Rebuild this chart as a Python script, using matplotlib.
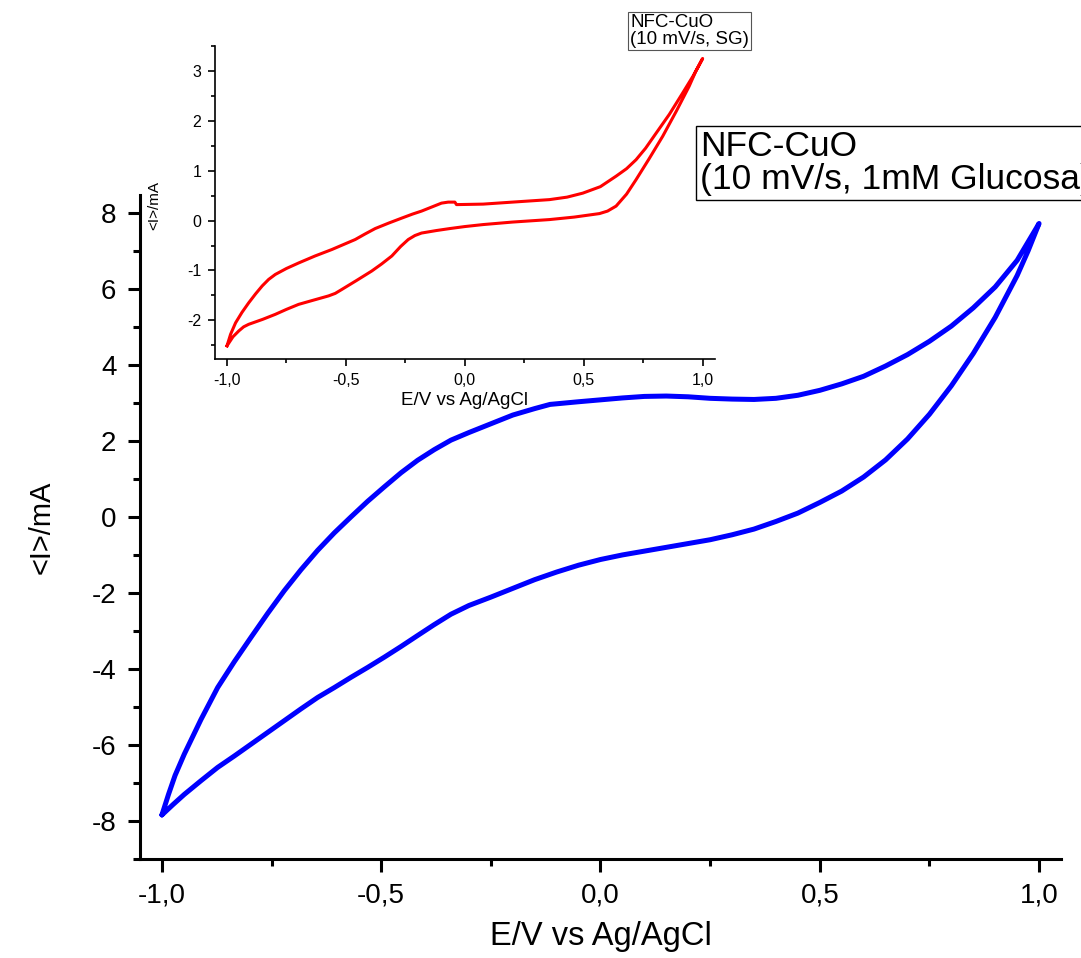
import numpy as np
import matplotlib.pyplot as plt
from matplotlib.ticker import MultipleLocator, FuncFormatter

plt.rcParams['font.family'] = ['Liberation Sans', 'DejaVu Sans']
plt.rcParams['axes.unicode_minus'] = False

# Main CV (1mM Glucosa): forward scan then return scan
E_fwd = [-1.0, -0.985, -0.97, -0.949, -0.911, -0.873, -0.835, -0.797, -0.759,
         -0.721, -0.683, -0.645, -0.607, -0.569, -0.531, -0.493, -0.455,
         -0.417, -0.379, -0.341, -0.30, -0.25, -0.2, -0.15, -0.115, -0.05,
         0.0, 0.05, 0.1, 0.15, 0.2, 0.25, 0.3, 0.35, 0.4, 0.45, 0.5, 0.55,
         0.6, 0.65, 0.7, 0.75, 0.8, 0.85, 0.9, 0.95, 1.0]
I_fwd = [-7.84, -7.3, -6.8, -6.24, -5.33, -4.49, -3.81, -3.17, -2.54,
         -1.94, -1.39, -0.88, -0.42, 0.0, 0.41, 0.79, 1.16,
         1.49, 1.77, 2.02, 2.22, 2.45, 2.68, 2.85, 2.96, 3.03,
         3.08, 3.13, 3.17, 3.18, 3.16, 3.12, 3.1, 3.09, 3.12, 3.2, 3.33, 3.5,
         3.7, 3.97, 4.27, 4.62, 5.02, 5.5, 6.05, 6.75, 7.72]
E_rev = [1.0, 0.975, 0.95, 0.925, 0.9, 0.85, 0.8, 0.75, 0.7, 0.65, 0.6, 0.55,
         0.5, 0.45, 0.4, 0.35, 0.3, 0.25, 0.2, 0.15, 0.1, 0.05, 0.0, -0.05,
         -0.1, -0.15, -0.2, -0.25, -0.3, -0.341, -0.38, -0.417, -0.455,
         -0.493, -0.531, -0.569, -0.607, -0.645, -0.683, -0.721, -0.759,
         -0.797, -0.835, -0.873, -0.911, -0.949, -0.975, -1.0]
I_rev = [7.72, 7.0, 6.35, 5.8, 5.25, 4.3, 3.45, 2.7, 2.05, 1.5, 1.05, 0.68,
         0.38, 0.1, -0.12, -0.32, -0.47, -0.6, -0.7, -0.8, -0.9, -1.0, -1.12,
         -1.27, -1.45, -1.65, -1.88, -2.11, -2.33, -2.56, -2.84, -3.12, -3.41,
         -3.69, -3.96, -4.22, -4.49, -4.75, -5.05, -5.36, -5.67,
         -5.98, -6.29, -6.59, -6.94, -7.30, -7.57, -7.84]

# Inset CV (SG)
Es_fwd = [-1.0, -0.985, -0.964, -0.937, -0.909, -0.88, -0.852, -0.825, -0.797,
          -0.75, -0.699, -0.63, -0.559, -0.51, -0.461, -0.42, -0.377, -0.32,
          -0.265, -0.22, -0.182, -0.14, -0.098, -0.07, -0.042, -0.035, 0.077,
          0.2, 0.356, 0.43, 0.496, 0.57, 0.636, 0.68, 0.72, 0.76, 0.804, 0.86,
          0.915, 0.96, 1.0]
Is_fwd = [-2.51, -2.28, -2.05, -1.84, -1.65, -1.47, -1.31, -1.18, -1.08,
          -0.96, -0.85, -0.71, -0.58, -0.48, -0.38, -0.27, -0.16, -0.05,
          0.05, 0.13, 0.19, 0.27, 0.35, 0.37, 0.37, 0.32, 0.33,
          0.37, 0.42, 0.47, 0.55, 0.68, 0.89, 1.04, 1.22, 1.45, 1.75, 2.13,
          2.55, 2.9, 3.25]
Es_rev = [1.0, 0.97, 0.943, 0.89, 0.832, 0.775, 0.72, 0.68, 0.636, 0.6, 0.566,
          0.46, 0.356, 0.2, 0.077, 0.0, -0.063, -0.12, -0.182, -0.21, -0.238,
          -0.27, -0.307, -0.35, -0.391, -0.455, -0.517, -0.545, -0.573, -0.64,
          -0.699, -0.75, -0.797, -0.85, -0.909, -0.93, -0.95, -0.975, -1.0]
Is_rev = [3.25, 2.98, 2.69, 2.2, 1.69, 1.24, 0.82, 0.53, 0.29, 0.19, 0.14,
          0.07, 0.02, -0.03, -0.08, -0.12, -0.16, -0.2, -0.25, -0.3, -0.38,
          -0.52, -0.71, -0.87, -1.01, -1.2, -1.38, -1.46, -1.51, -1.6,
          -1.68, -1.78, -1.88, -1.98, -2.08, -2.13, -2.21, -2.33, -2.51]

comma = FuncFormatter(lambda v, p: ('%.1f' % v).replace('.', ','))

fig = plt.figure(figsize=(10.81, 9.58), dpi=100)

# main axes
ax = fig.add_axes([0.1295, 0.1033, 0.852, 0.6932])
ax.plot(E_fwd + E_rev, I_fwd + I_rev, color='#0000ff', lw=3.6,
        solid_joinstyle='round', solid_capstyle='round')
ax.set_xlim(-1.05, 1.05)
ax.set_ylim(-9.0, 8.47)
ax.xaxis.set_major_locator(MultipleLocator(0.5))
ax.xaxis.set_minor_locator(MultipleLocator(0.25))
ax.yaxis.set_major_locator(MultipleLocator(2))
ax.yaxis.set_minor_locator(MultipleLocator(1))
ax.xaxis.set_major_formatter(comma)
for s in ['top', 'right']:
    ax.spines[s].set_visible(False)
for s in ['left', 'bottom']:
    ax.spines[s].set_linewidth(2.2)
ax.tick_params(which='major', direction='out', length=9, width=2.2,
               labelsize=20, pad=8)
ax.tick_params(which='minor', direction='out', length=5, width=2.2)
ax.set_xlabel('E/V vs Ag/AgCl', fontsize=23.5, labelpad=9)
ax.set_ylabel('<I>/mA', fontsize=21, labelpad=26)

fig.text(700 / 1081, 1 - 163 / 958, 'NFC-CuO\n(10 mV/s, 1mM Glucosa)',
         fontsize=25.5, va='center', ha='left', linespacing=1.0,
         bbox=dict(boxstyle='square,pad=0.12', fc='white', ec='black', lw=1))

# inset axes
ins = fig.add_axes([0.199, 0.625, 0.462, 0.327])
ins.plot(Es_fwd + Es_rev, Is_fwd + Is_rev, color='#ff0000', lw=2.2,
         solid_joinstyle='round')
ins.set_xlim(-1.05, 1.05)
ins.set_ylim(-2.78, 3.5)
ins.xaxis.set_major_locator(MultipleLocator(0.5))
ins.xaxis.set_minor_locator(MultipleLocator(0.25))
ins.yaxis.set_major_locator(MultipleLocator(1))
ins.yaxis.set_minor_locator(MultipleLocator(0.5))
ins.xaxis.set_major_formatter(comma)
for s in ['top', 'right']:
    ins.spines[s].set_visible(False)
for s in ['left', 'bottom']:
    ins.spines[s].set_linewidth(1.2)
ins.tick_params(which='major', direction='out', length=5, width=1.2,
                labelsize=11.5, pad=5)
ins.tick_params(which='minor', direction='out', length=3, width=1.2)
ins.set_xlabel('E/V vs Ag/AgCl', fontsize=13.5, labelpad=3)
fig.text(154 / 1081, 1 - 205 / 958, '<I>/mA', fontsize=11, rotation=90,
         ha='center', va='center')

fig.text(630 / 1081, 1 - 31 / 958, 'NFC-CuO\n(10 mV/s, SG)', fontsize=13.5,
         va='center', ha='left', linespacing=1.0,
         bbox=dict(boxstyle='square,pad=0.1', fc='white', ec='#555555', lw=0.8))

plt.savefig('out.png', dpi=100, facecolor='w')
plt.close()
